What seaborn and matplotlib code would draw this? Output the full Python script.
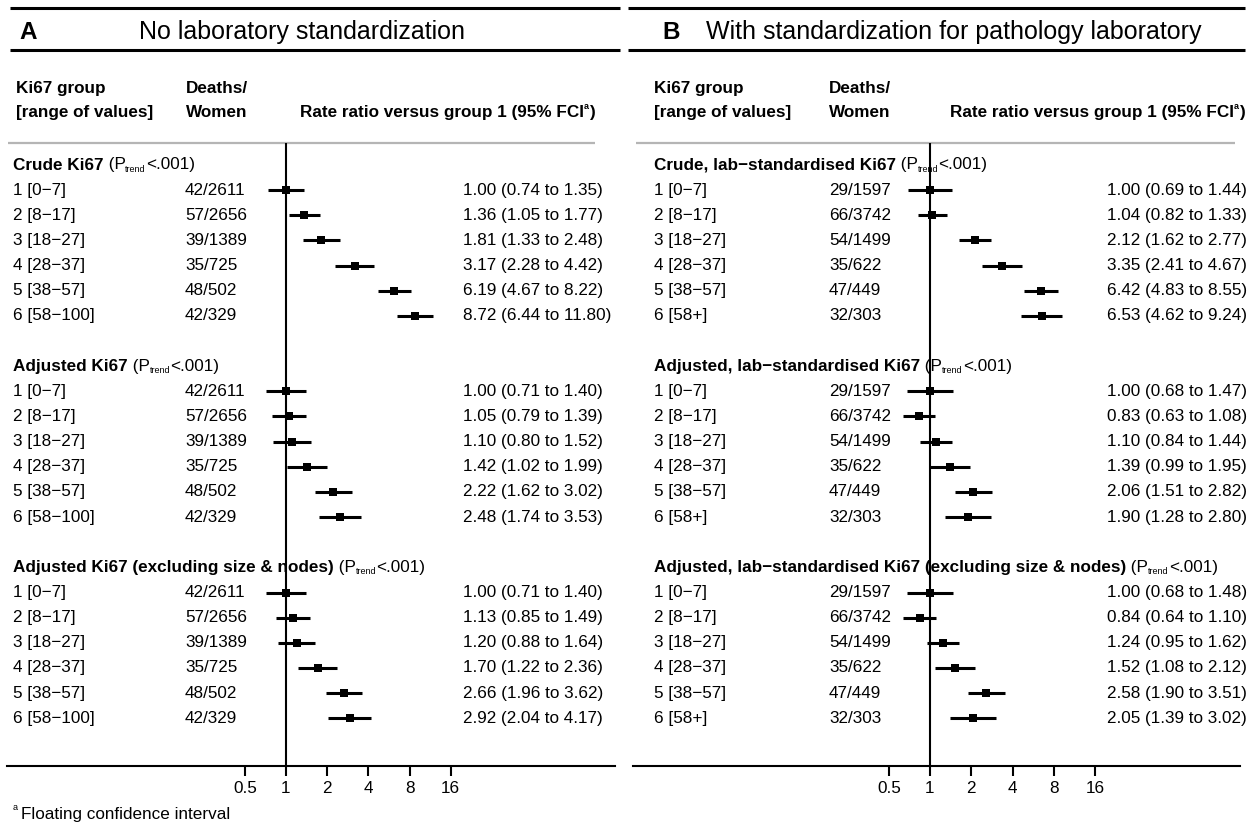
import numpy as np
import pandas as pd
import matplotlib
matplotlib.use("Agg")
import matplotlib.pyplot as plt
import matplotlib.transforms as mtransforms
from matplotlib.ticker import NullLocator
import seaborn as sns

# ---------------- data ----------------
groups_A = ["1 [0\u22127]", "2 [8\u221217]", "3 [18\u221227]", "4 [28\u221237]", "5 [38\u221257]", "6 [58\u2212100]"]
groups_B = ["1 [0\u22127]", "2 [8\u221217]", "3 [18\u221227]", "4 [28\u221237]", "5 [38\u221257]", "6 [58+]"]
deaths_A = ["42/2611", "57/2656", "39/1389", "35/725", "48/502", "42/329"]
deaths_B = ["29/1597", "66/3742", "54/1499", "35/622", "47/449", "32/303"]

sections_A = ["Crude Ki67", "Adjusted Ki67", "Adjusted Ki67 (excluding size & nodes)"]
sections_B = ["Crude, lab\u2212standardised Ki67", "Adjusted, lab\u2212standardised Ki67",
              "Adjusted, lab\u2212standardised Ki67 (excluding size & nodes)"]
p_trend = "<.001"

# Panel A
rr_A_crude = [1.00, 1.36, 1.81, 3.17, 6.19, 8.72]
lo_A_crude = [0.74, 1.05, 1.33, 2.28, 4.67, 6.44]
hi_A_crude = [1.35, 1.77, 2.48, 4.42, 8.22, 11.80]
rr_A_adj = [1.00, 1.05, 1.10, 1.42, 2.22, 2.48]
lo_A_adj = [0.71, 0.79, 0.80, 1.02, 1.62, 1.74]
hi_A_adj = [1.40, 1.39, 1.52, 1.99, 3.02, 3.53]
rr_A_excl = [1.00, 1.13, 1.20, 1.70, 2.66, 2.92]
lo_A_excl = [0.71, 0.85, 0.88, 1.22, 1.96, 2.04]
hi_A_excl = [1.40, 1.49, 1.64, 2.36, 3.62, 4.17]

# Panel B
rr_B_crude = [1.00, 1.04, 2.12, 3.35, 6.42, 6.53]
lo_B_crude = [0.69, 0.82, 1.62, 2.41, 4.83, 4.62]
hi_B_crude = [1.44, 1.33, 2.77, 4.67, 8.55, 9.24]
rr_B_adj = [1.00, 0.83, 1.10, 1.39, 2.06, 1.90]
lo_B_adj = [0.68, 0.63, 0.84, 0.99, 1.51, 1.28]
hi_B_adj = [1.47, 1.08, 1.44, 1.95, 2.82, 2.80]
rr_B_excl = [1.00, 0.84, 1.24, 1.52, 2.58, 2.05]
lo_B_excl = [0.68, 0.64, 0.95, 1.08, 1.90, 1.39]
hi_B_excl = [1.48, 1.10, 1.62, 2.12, 3.51, 3.02]

tick_values = [0.5, 1, 2, 4, 8, 16]
tick_labels = ["0.5", "1", "2", "4", "8", "16"]

panel_letters = ["A", "B"]
panel_titles = ["No laboratory standardization", "With standardization for pathology laboratory"]
hdr_col1 = ["Ki67 group", "[range of values]"]
hdr_col2 = ["Deaths/", "Women"]
hdr_col3 = "Rate ratio versus group 1 (95% FCI"
footnote = "Floating confidence interval"

# ---------------- style ----------------
sns.set_theme(style="ticks")
plt.rcParams["font.family"] = ["Liberation Sans", "DejaVu Sans"]
plt.rcParams["text.color"] = "black"
plt.rcParams["xtick.color"] = "black"
plt.rcParams["xtick.labelcolor"] = "black"
FS = 12.3

W, H = 1248, 823
fig = plt.figure(figsize=(W / 100, H / 100), dpi=100)
bg = fig.add_axes([0, 0, 1, 1])
bg.set_xlim(0, W)
bg.set_ylim(H, 0)
bg.axis("off")

ROW0, ROWSTEP = 165.0, 25.15
GRAY_Y, AXIS_Y = 143.0, 766.0

layout = [
    dict(label_x=13, deaths_x=185, ci_x=463, one_x=286, ppd=41.2, ax_l=7, ax_r=615,
         top=(10, 620), gray=(8, 595), letter_x=19, title_x=139,
         h1_x=16, h2_x=186, h3_x=300),
    dict(label_x=654, deaths_x=829, ci_x=1107, one_x=930, ppd=41.25, ax_l=633, ax_r=1240,
         top=(628, 1245), gray=(636, 1235), letter_x=662, title_x=706,
         h1_x=654, h2_x=829, h3_x=950),
]

panel_data = [
    dict(groups=groups_A, deaths=deaths_A, sections=sections_A,
         rr=[rr_A_crude, rr_A_adj, rr_A_excl], lo=[lo_A_crude, lo_A_adj, lo_A_excl],
         hi=[hi_A_crude, hi_A_adj, hi_A_excl]),
    dict(groups=groups_B, deaths=deaths_B, sections=sections_B,
         rr=[rr_B_crude, rr_B_adj, rr_B_excl], lo=[lo_B_crude, lo_B_adj, lo_B_excl],
         hi=[hi_B_crude, hi_B_adj, hi_B_excl]),
]


def rich(ax, x, y, pieces, transform, zorder=1, va="center"):
    """pieces: list of (text, fontsize, weight, dy_points)."""
    txt, fs, wt, dy = pieces[0]
    base = ax.text(x, y, txt, transform=transform, fontsize=fs, fontweight=wt,
                   ha="left", va=va, zorder=zorder, clip_on=False, color="black")
    prev = base
    for txt, fs, wt, dy in pieces[1:]:
        prev = ax.annotate(txt, xy=(1, 0), xycoords=(prev, base), xytext=(0, dy),
                           textcoords="offset points", fontsize=fs, fontweight=wt,
                           ha="left", va="bottom", zorder=zorder, annotation_clip=False,
                           color="black")
    return base


for k in range(2):
    L = layout[k]
    D = panel_data[k]

    # header lines & titles
    bg.plot([L["top"][0], L["top"][1]], [8, 8], color="black", lw=2.2, solid_capstyle="butt")
    bg.plot([L["top"][0], L["top"][1]], [50, 50], color="black", lw=2.2, solid_capstyle="butt")
    bg.text(L["letter_x"], 32, panel_letters[k], fontsize=17.5, fontweight="bold", va="center", ha="left")
    bg.text(L["title_x"], 32, panel_titles[k], fontsize=18, va="center", ha="left")
    bg.text(L["h1_x"], 88, hdr_col1[0], fontsize=FS, fontweight="bold", va="center")
    bg.text(L["h1_x"], 112, hdr_col1[1], fontsize=FS, fontweight="bold", va="center")
    bg.text(L["h2_x"], 88, hdr_col2[0], fontsize=FS, fontweight="bold", va="center")
    bg.text(L["h2_x"], 112, hdr_col2[1], fontsize=FS, fontweight="bold", va="center")
    rich(bg, L["h3_x"], 112, [(hdr_col3, FS, "bold", 0), ("a", 6.5, "bold", 6),
                              (")", FS, "bold", 0)], bg.transData)
    bg.plot([L["gray"][0], L["gray"][1]], [GRAY_Y, GRAY_Y], color="#b5b5b5", lw=1.6,
            solid_capstyle="butt")

    # forest axes
    left = L["ax_l"] / W
    width = (L["ax_r"] - L["ax_l"]) / W
    bottom = 1 - AXIS_Y / H
    height = (AXIS_Y - GRAY_Y) / H
    ax = fig.add_axes([left, bottom, width, height])
    ax.patch.set_alpha(0)

    rows, rr, lo, hi = [], [], [], []
    for s in range(3):
        for g in range(6):
            rows.append(8 * s + 1 + g)
            rr.append(D["rr"][s][g])
            lo.append(D["lo"][s][g])
            hi.append(D["hi"][s][g])
    df = pd.DataFrame(dict(row=rows, rr=rr, lo=lo, hi=hi))

    ax.set_xscale("log", base=2)
    ax.hlines(df["row"], df["lo"], df["hi"], color="black", lw=2.2, zorder=4)
    sns.scatterplot(data=df, x="rr", y="row", marker="s", s=26, color="black",
                    edgecolor="black", linewidth=0, ax=ax, zorder=5, legend=False)
    ax.axvline(1, color="black", lw=1.5, zorder=3)

    xmin = 2 ** ((L["ax_l"] - L["one_x"]) / L["ppd"])
    xmax = 2 ** ((L["ax_r"] - L["one_x"]) / L["ppd"])
    ax.set_xlim(xmin, xmax)
    ax.set_ylim((AXIS_Y - ROW0) / ROWSTEP, (GRAY_Y - ROW0) / ROWSTEP)
    ax.set_xticks(tick_values)
    ax.set_xticklabels(tick_labels)
    ax.xaxis.set_minor_locator(NullLocator())
    ax.tick_params(axis="y", left=False, labelleft=False)
    ax.set_xlabel("")
    ax.set_ylabel("")
    for sp in ["top", "left", "right"]:
        ax.spines[sp].set_visible(False)
    ax.spines["bottom"].set_linewidth(1.5)
    ax.spines["bottom"].set_color("black")
    ax.tick_params(axis="x", which="major", direction="out", length=7, width=1.5,
                   color="black", labelcolor="black", pad=4, labelsize=FS,
                   bottom=True, top=False)

    # row texts (blended: x in pixels of bg, y in row units of ax)
    tr = mtransforms.blended_transform_factory(bg.transData, ax.transData)
    for s in range(3):
        hrow = 8 * s
        rich(ax, L["label_x"], hrow, [(D["sections"][s], FS, "bold", 0), (" (P", FS, "normal", 0),
                                      ("trend", 6.5, "normal", -1), (p_trend + ")", FS, "normal", 0)],
             tr, zorder=1)
        for g in range(6):
            r = hrow + 1 + g
            ax.text(L["label_x"], r, D["groups"][g], transform=tr, fontsize=FS, va="center",
                    ha="left", zorder=1, clip_on=False, color="black")
            ax.text(L["deaths_x"], r, D["deaths"][g], transform=tr, fontsize=FS, va="center",
                    ha="left", zorder=1, clip_on=False, color="black")
            ci = f"{D['rr'][s][g]:.2f} ({D['lo'][s][g]:.2f} to {D['hi'][s][g]:.2f})"
            ax.text(L["ci_x"], r, ci, transform=tr, fontsize=FS, va="center", ha="left",
                    zorder=1, clip_on=False, color="black")

bg.text(13, 808, "a", fontsize=6.5, va="center", ha="left", color="black")
bg.text(21, 814, footnote, fontsize=FS, va="center", ha="left", color="black")

fig.savefig("out.png", dpi=100)
